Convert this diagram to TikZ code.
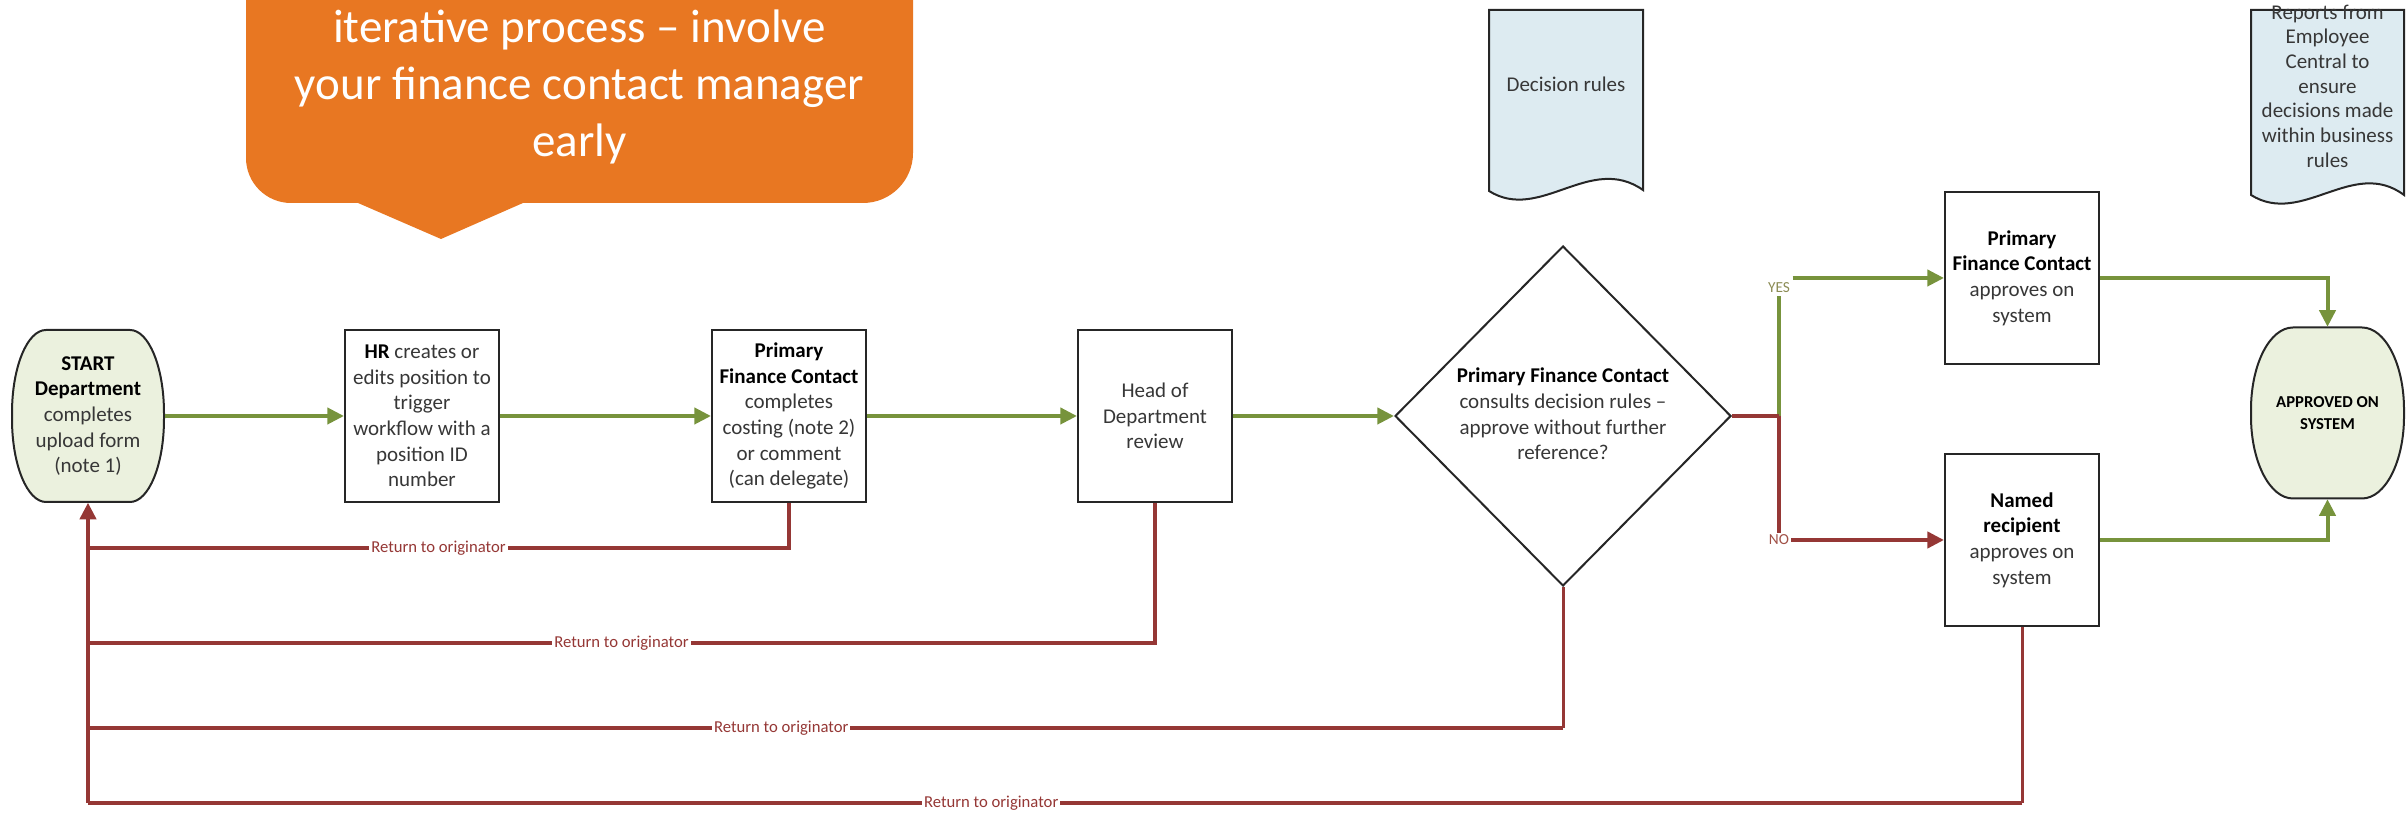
\documentclass[tikz,border=0pt]{standalone}
\usepackage{fontspec}
\setmainfont{Carlito}
\usetikzlibrary{arrows.meta,shapes.geometric}
\definecolor{flowgreen}{RGB}{119,147,60}
\definecolor{flowred}{RGB}{149,55,53}
\definecolor{callorange}{RGB}{232,119,34}
\definecolor{docblue}{RGB}{221,235,241}
\definecolor{termgreen}{RGB}{235,241,222}
\definecolor{txtgray}{RGB}{55,55,55}
\definecolor{yestext}{RGB}{140,140,85}
\definecolor{notext}{RGB}{160,80,70}
\newcommand{\hb}[1]{\textcolor{black}{\textbf{#1}}}
\begin{document}
\begin{tikzpicture}[x=0.3pt,y=0.3pt,
  boxfont/.style={font=\fontsize{6.3}{7.7}\selectfont, text=txtgray},
  box/.style={boxfont, draw=black!85, line width=0.6pt, fill=white, minimum width=46.2pt, minimum height=51.6pt, inner sep=0pt, align=center},
  termtext/.style={boxfont, inner sep=0pt, align=center},
  goarrow/.style={draw=flowgreen, line width=1.2pt, -{Triangle[length=5pt,width=4.8pt]}},
  goline/.style={draw=flowgreen, line width=1.2pt},
  backline/.style={draw=flowred, line width=1.3pt},
  backthin/.style={draw=flowred, line width=0.9pt},
  backarrow/.style={draw=flowred, line width=1.3pt, -{Triangle[length=5pt,width=4.8pt]}},
  retlabel/.style={fill=white, inner sep=0.6pt, text=flowred, font=\fontsize{5}{6}\selectfont},
  ynlabel/.style={fill=white, inner sep=0.6pt, font=\fontsize{4.6}{5.5}\selectfont},
  docshape/.style={draw=black!85, line width=0.6pt, fill=docblue},
  termshape/.style={draw=black!85, line width=0.6pt, fill=termgreen},
  calltext/.style={text=white, font=\fontsize{14.1}{17}\selectfont, anchor=base, inner sep=0pt},
]
\useasboundingbox (0,0) rectangle (2407,813);

% callout
\begin{scope}
\clip (0,0) rectangle (2407,813);
\fill[callorange] (246,900) -- (246,655) arc[start angle=180,end angle=270,x radius=45,y radius=45]
  -- (358,610) -- (441,574) -- (523,610) -- (863,610)
  arc[start angle=270,end angle=360,radius=50] -- (913,900) -- cycle;
\end{scope}
\node[calltext] (cl1) at (579.5,770) {iterative process – involve};
\node[calltext] (cl2) at (579.5,713) {your finance contact manager};
\node[calltext] (cl3) at (579.5,656) {early};

% documents
\filldraw[docshape] (1489,622) -- (1489,803) -- (1643,803) -- (1643,623)
  .. controls (1590,660) and (1540,590) .. (1489,622) -- cycle;
\node[boxfont, align=center, inner sep=0pt] (rules) at (1566,729) {Decision rules};
\filldraw[docshape] (2251,618) -- (2251,803) -- (2404,803) -- (2404,618)
  .. controls (2353,656) and (2302,586) .. (2251,618) -- cycle;
\node[boxfont, align=center, inner sep=0pt, font=\fontsize{6.3}{7.4}\selectfont] (reports) at (2327.5,727)
  {Reports from\\Employee\\Central to\\ensure\\decisions made\\within business\\rules};

% terminators
\filldraw[termshape] (46,311) -- (130,311) arc[start angle=-90,end angle=0,x radius=34,y radius=83]
  -- (164,400) arc[start angle=0,end angle=90,x radius=34,y radius=83]
  -- (46,483) arc[start angle=90,end angle=180,x radius=34,y radius=83]
  -- (12,394) arc[start angle=180,end angle=270,x radius=34,y radius=83] -- cycle;
\filldraw[termshape] (2293,314.5) -- (2362,314.5) arc[start angle=-90,end angle=0,x radius=42,y radius=82]
  -- (2404,403.5) arc[start angle=0,end angle=90,x radius=42,y radius=82]
  -- (2293,485.5) arc[start angle=90,end angle=180,x radius=42,y radius=82]
  -- (2251,396.5) arc[start angle=180,end angle=270,x radius=42,y radius=82] -- cycle;

\node[termtext, minimum width=45.6pt, minimum height=51.6pt] (start) at (88,397)
  {\hb{START}\\\hb{Department}\\completes\\upload form\\(note 1)};
\node[termtext, minimum width=45.9pt, minimum height=51.3pt, font=\fontsize{5}{6.6}\selectfont] (appr) at (2327.5,400)
  {\hb{APPROVED ON}\\\hb{SYSTEM}};

% process boxes
\node[box] (hr) at (422,397) {\hb{HR} creates or\\edits position to\\trigger\\workflow with a\\position ID\\number};
\node[box] (pfc) at (789,397) {\hb{Primary}\\\hb{Finance Contact}\\completes\\costing (note 2)\\or comment\\(can delegate)};
\node[box] (hod) at (1155,397) {Head of\\Department\\review};
\node[box] (pfc2) at (2022,535) {\hb{Primary}\\\hb{Finance Contact}\\approves on\\system};
\node[box] (named) at (2022,273) {\hb{Named}\\\hb{recipient}\\approves on\\system};

% decision
\node[diamond, draw=black!85, line width=0.6pt, fill=white, minimum width=100.8pt, minimum height=102pt, inner sep=0pt] (dec) at (1563,397) {};
\node[boxfont, align=center, inner sep=0pt] (dectext) at (1563,399)
  {\hb{Primary Finance Contact}\\consults decision rules –\\approve without further\\reference?};

% coordinates
\coordinate (j) at (1779,397);
\coordinate (r1) at (88,265);
\coordinate (r2) at (88,170);
\coordinate (r3) at (88,85);
\coordinate (r4) at (88,10);
\coordinate (d3) at (1563,85);
\coordinate (n4) at (2022,10);

% forward flow
\draw[goarrow] (start.east) -- (hr.west);
\draw[goarrow] (hr.east) -- (pfc.west);
\draw[goarrow] (pfc.east) -- (hod.west);
\draw[goarrow] (hod.east) -- (dec.west);
\node[ynlabel, text=yestext] (yes) at (1779,525) {YES};
\draw[goline] (j) -- (yes.south);
\draw[goarrow] (yes.east |- pfc2.west) -- (pfc2.west);
\draw[backarrow] (j) |- node[ynlabel, pos=0.5, text=notext] (no) {NO} (named.west);
\draw[backline] (dec.east) -- (j);
\draw[goarrow] (pfc2.east) -| (appr.north);
\draw[goarrow] (named.east) -| (appr.south);

% return to originator
\draw[backline] (pfc.south) |- node[retlabel, pos=0.75] (rl1) {Return to originator} (r1);
\draw[backline] (hod.south) |- node[retlabel, pos=0.75] (rl2) {Return to originator} (r2);
\draw[backthin] (dec.south) -- (d3);
\draw[backline] (d3) -- node[retlabel, pos=0.53] (rl3) {Return to originator} (r3);
\draw[backthin] (named.south) -- (n4);
\draw[backline] (n4) -- node[retlabel, pos=0.533] (rl4) {Return to originator} (r4);
\draw[backarrow] (r4) -- (start.south);
\end{tikzpicture}
\end{document}
